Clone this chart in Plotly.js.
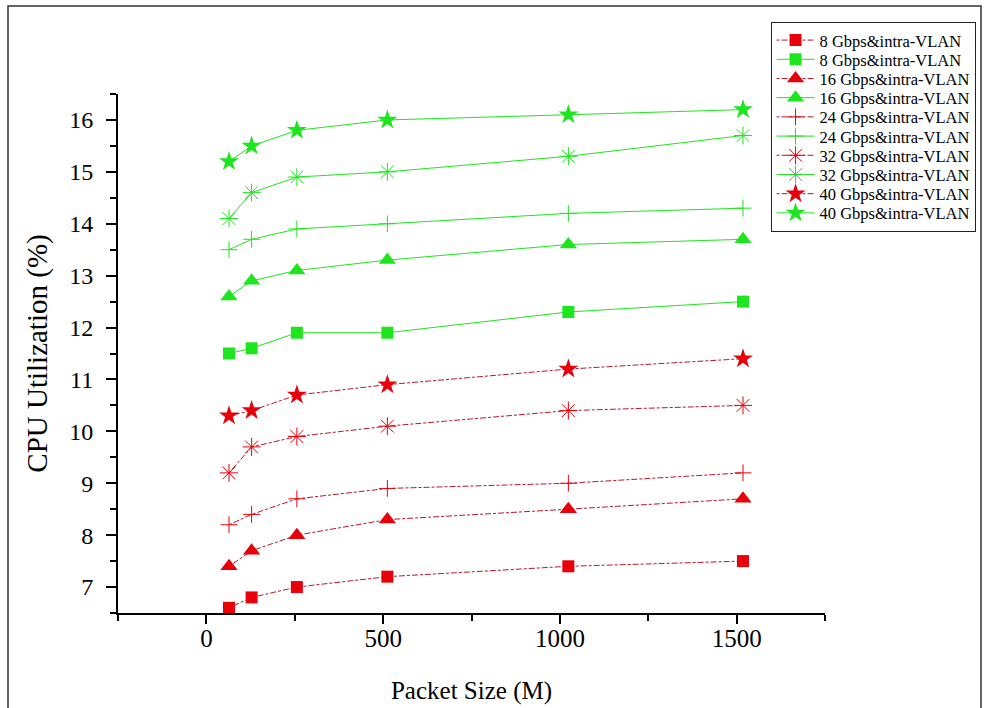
<!DOCTYPE html>
<html>
<head>
<meta charset="utf-8">
<script src="https://cdn.plot.ly/plotly-3.0.1.min.js"></script>
<style>
html,body{margin:0;padding:0;background:#fff;}
#chart{width:985px;height:708px;}
</style>
</head>
<body>
<div id="chart"></div>
<script>
const packetSizes = [64, 128, 256, 512, 1024, 1518];
const seriesNames = [
  "8 Gbps&intra-VLAN", "8 Gbps&intra-VLAN",
  "16 Gbps&intra-VLAN", "16 Gbps&intra-VLAN",
  "24 Gbps&intra-VLAN", "24 Gbps&intra-VLAN",
  "32 Gbps&intra-VLAN", "32 Gbps&intra-VLAN",
  "40 Gbps&intra-VLAN", "40 Gbps&intra-VLAN"
];
const red8   = [6.6, 6.8, 7.0, 7.2, 7.4, 7.5];
const green8 = [11.5, 11.6, 11.9, 11.9, 12.3, 12.5];
const red16  = [7.4, 7.7, 8.0, 8.3, 8.5, 8.7];
const green16= [12.6, 12.9, 13.1, 13.3, 13.6, 13.7];
const red24  = [8.2, 8.4, 8.7, 8.9, 9.0, 9.2];
const green24= [13.5, 13.7, 13.9, 14.0, 14.2, 14.3];
const red32  = [9.2, 9.7, 9.9, 10.1, 10.4, 10.5];
const green32= [14.1, 14.6, 14.9, 15.0, 15.3, 15.7];
const red40  = [10.3, 10.4, 10.7, 10.9, 11.2, 11.4];
const green40= [15.2, 15.5, 15.8, 16.0, 16.1, 16.2];
const xTicks = [0, 500, 1000, 1500];
const yTicks = [7, 8, 9, 10, 11, 12, 13, 14, 15, 16];

const RED = "#e8000b", REDLINE = "#b8182a", GREEN = "#1ee61e";
const seriesData = [red8, green8, red16, green16, red24, green24, red32, green32, red40, green40];
const symbols = ["square","square","triangle-up","triangle-up","cross-thin-open","cross-thin-open","asterisk-open","asterisk-open","star","star"];
const sizes = [12,12,15,15,12,12,15,15,15,15];

const traces = seriesData.map((ys, i) => {
  const isRed = i % 2 === 0;
  const open = symbols[i].includes("open");
  return {
    x: packetSizes, y: ys, name: seriesNames[i], type: "scatter", mode: "lines+markers",
    cliponaxis: false,
    line: {color: isRed ? REDLINE : GREEN, width: 1, dash: isRed ? "3px,2px,6px,2px" : "solid"},
    marker: {symbol: symbols[i], size: sizes[i], color: isRed ? RED : GREEN,
      line: {color: isRed ? (open ? "#b0202a" : RED) : GREEN, width: open ? 1 : 0}}
  };
});

const font = "Liberation Serif";
const layout = {
  width: 985, height: 708,
  margin: {l: 118, r: 160, t: 94, b: 95, autoexpand: false},
  paper_bgcolor: "#fff", plot_bgcolor: "#fff",
  font: {family: font, color: "#000", size: 22},
  showlegend: true,
  legend: {x: 0.923, y: 1.139, xanchor: "left", yanchor: "top", bgcolor: "#fff",
    bordercolor: "#222", borderwidth: 1, font: {family: font, size: 16.5, color: "#000"},
    tracegroupgap: 0, itemwidth: 38},
  xaxis: {range: [-250, 1750], tickvals: xTicks, showgrid: false, zeroline: false,
    showline: true, linecolor: "#000", linewidth: 2, ticks: "outside", ticklen: 9, tickwidth: 2,
    tickcolor: "#000", tickfont: {family: font, size: 25},
    minor: {tickvals: [-250, 250, 750, 1250, 1750], ticks: "outside", ticklen: 6, tickwidth: 2, tickcolor: "#000"},
    title: {text: "Packet Size (M)", font: {family: font, size: 25}}},
  yaxis: {range: [6.5, 16.5], tickvals: yTicks, showgrid: false, zeroline: false,
    showline: true, linecolor: "#000", linewidth: 2, ticks: "outside", ticklen: 10, tickwidth: 2,
    tickcolor: "#000", tickfont: {family: font, size: 24}, ticklabelstandoff: 8,
    minor: {dtick: 0.5, ticks: "outside", ticklen: 6, tickwidth: 2, tickcolor: "#000"},
    title: {text: "CPU Utilization (%)", font: {family: font, size: 29}, standoff: 13}},
  shapes: [{type: "rect", xref: "paper", yref: "paper",
    x0: (8 - 118) / 707, x1: (981 - 118) / 707, y0: (613 - 712) / 519, y1: (613 - 6) / 519,
    line: {color: "#333", width: 1.5}, fillcolor: "rgba(0,0,0,0)", layer: "below"}]
};

const SHIFT = " translate(0,-7)";
function liftXLabels(gd) {
  gd.querySelectorAll("g.xtick text").forEach(t => {
    let tr = t.getAttribute("transform") || "";
    if (tr.endsWith(SHIFT)) tr = tr.slice(0, -SHIFT.length);
    t.setAttribute("transform", tr + SHIFT);
  });
}
function tightenLegend(gd) {
  const legend = gd.querySelector(".legend");
  if (!legend) return;
  const items = legend.querySelectorAll(".traces");
  if (items.length < 2) return;
  const parse = el => {
    const m = /translate\(\s*([-\d.]+)[ ,]+([-\d.]+)\s*\)/.exec(el.getAttribute("transform") || "");
    return m ? [parseFloat(m[1]), parseFloat(m[2])] : [0, 0];
  };
  const [x0, y0] = parse(items[0]);
  const oldStep = parse(items[1])[1] - y0;
  const step = 19.2;
  if (Math.abs(oldStep - step) < 0.01) return;
  items.forEach((it, i) => it.setAttribute("transform", `translate(${x0},${y0 + i * step})`));
  const bg = legend.querySelector("rect.bg");
  if (bg) {
    const h = parseFloat(bg.getAttribute("height"));
    bg.setAttribute("height", h - (items.length - 1) * (oldStep - step));
  }
}
function fixUp(gd) { liftXLabels(gd); tightenLegend(gd); }

Plotly.newPlot("chart", traces, layout, {displayModeBar: false, staticPlot: true}).then(gd => {
  fixUp(gd);
  if (gd.on) gd.on("plotly_afterplot", () => fixUp(gd));
  setTimeout(() => fixUp(gd), 50);
  setTimeout(() => fixUp(gd), 300);
});
</script>
</body>
</html>
